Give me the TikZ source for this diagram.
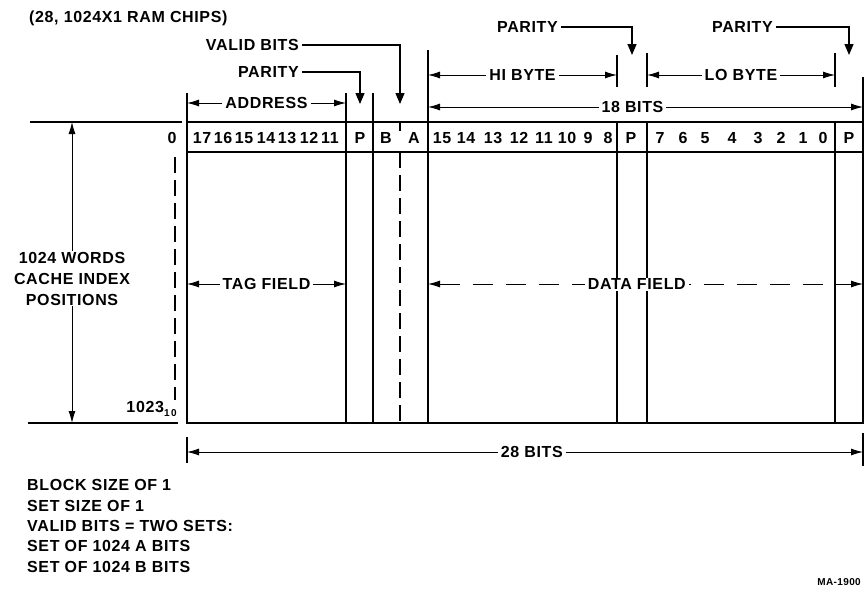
\documentclass[tikz,border=0pt]{standalone}
\usepackage{fontspec}
\setmainfont[LetterSpace=4]{Liberation Sans}
\usepackage{tikz}
\usetikzlibrary{arrows.meta, positioning}
\tikzstyle{txt} = [font=\bfseries\fontsize{16}{21}\selectfont, inner sep=1pt, align=center]
\tikzstyle{small} = [font=\bfseries\fontsize{10}{12}\selectfont, inner sep=1pt]
\tikzstyle{gapfill} = [fill=white, inner xsep=3pt, inner ysep=1pt]
\tikzstyle{box} = [line width=1.8pt]
\tikzstyle{ext} = [line width=1.4pt]
\tikzstyle{dashline} = [line width=1.6pt, dash pattern=on 16pt off 7pt]
\tikzstyle{dim} = [line width=0.9pt, {Latex[length=12pt,width=7pt]}-{Latex[length=12pt,width=7pt]}]
\tikzstyle{pointer} = [line width=1.3pt, -{Triangle[length=11pt,width=9pt]}]

\begin{document}
\begin{tikzpicture}[x=1pt, y=-1pt]
    \useasboundingbox (0,0) rectangle (867,592);

    % word layout of the cache
    \draw[box] (187,122) rectangle (863,423);
    \draw[box] (187,152) -- (863,152);
    \foreach \x in {346,373,428,617,647,835}
        \draw[box] (\x,122) -- (\x,423);
    \draw[box] (400,122) -- (400,131);
    \draw[dashline] (400,152) -- (400,423);

    % extension lines
    \draw[ext] (30,122) -- (182,122);
    \draw[ext] (28,423) -- (178,423);
    \foreach \x/\ya/\yb in {187/93/122, 346/93/122, 373/93/122, 428/50/122,
                            617/55/87, 647/53/87, 835/53/87, 863/77/122,
                            187/437/463, 863/433/466}
        \draw[ext] (\x,\ya) -- (\x,\yb);
    \draw[dashline] (175,157) -- (175,400);

    % bit numbers
    \node[txt] (first) at (172,138) {0};
    \foreach \n/\x in {17/202,16/223,15/244,14/266,13/287,12/309,11/330}
        \node[txt] (tag\n) at (\x,138) {\n};
    \node[txt] (tagp) at (360,138) {P};
    \node[txt] (vb) at (386,138) {B};
    \node[txt] (va) at (414,138) {A};
    \foreach \n/\x in {15/442,14/466,13/493,12/519,11/544,10/567,9/588,8/608}
        \node[txt] (hi\n) at (\x,138) {\n};
    \node[txt] (hip) at (631,138) {P};
    \foreach \n/\x in {7/660,6/683,5/705,4/732,3/758,2/781,1/803,0/823}
        \node[txt] (lo\n) at (\x,138) {\n};
    \node[txt] (lop) at (849,138) {P};
    \node[txt, anchor=east] (last) at (178,409) {1023\raisebox{-4pt}{\fontsize{10}{10}\selectfont 1\,0}};

    % dimension arrows
    \coordinate (addrL) at (187,103);  \coordinate (addrR) at (346,103);
    \coordinate (hiL) at (428,75);     \coordinate (hiR) at (617,75);
    \coordinate (loL) at (647,75);     \coordinate (loR) at (835,75);
    \coordinate (bitsL) at (428,107);  \coordinate (bitsR) at (863,107);
    \coordinate (tagL) at (187,284);   \coordinate (tagR) at (346,284);
    \coordinate (dataL) at (428,284);  \coordinate (dataR) at (863,284);
    \coordinate (wordL) at (187,452);  \coordinate (wordR) at (863,452);
    \coordinate (wtop) at (72,122);    \coordinate (wbot) at (72,423);
    \draw[dim] (addrL) -- node[txt, gapfill] {ADDRESS} (addrR);
    \draw[dim] (hiL) -- node[txt, gapfill] {HI BYTE} (hiR);
    \draw[dim] (loL) -- node[txt, gapfill] {LO BYTE} (loR);
    \draw[dim] (bitsL) -- node[txt, gapfill, pos=0.47] {18 BITS} (bitsR);
    \draw[dim] (tagL) -- node[txt, gapfill] {TAG FIELD} (tagR);
    \draw[dim, dash pattern=on 20pt off 13pt] (dataL) -- node[txt, gapfill, pos=0.48] {DATA FIELD} (dataR);
    \draw[dim] (wordL) -- node[txt, gapfill, pos=0.51] {28 BITS} (wordR);
    \draw[dim] (wtop) -- node[txt, gapfill, pos=0.52] {1024 WORDS\\CACHE INDEX\\POSITIONS} (wbot);

    % pointers
    \node[txt, anchor=east, inner xsep=3pt] (parA) at (302,72) {PARITY};
    \node[txt, anchor=east, inner xsep=3pt] (valid) at (302,45) {VALID BITS};
    \node[txt, anchor=east, inner xsep=3pt] (parB) at (561,27) {PARITY};
    \node[txt, anchor=east, inner xsep=3pt] (parC) at (776,27) {PARITY};
    \coordinate (tipA) at (360,104);
    \coordinate (tipV) at (400,104);
    \coordinate (tipB) at (632,55);
    \coordinate (tipC) at (849,55);
    \draw[pointer] (parA.east) -| (tipA);
    \draw[pointer] (valid.east) -| (tipV);
    \draw[pointer] (parB.east) -| (tipB);
    \draw[pointer] (parC.east) -| (tipC);

    % notes
    \node[txt, anchor=west] (chips) at (28,18) {(28, 1024X1 RAM CHIPS)};
    \node[txt, anchor=west, align=left, font=\bfseries\fontsize{16}{20.3}\selectfont] (notes) at (26,526)
        {BLOCK SIZE OF 1\\SET SIZE OF 1\\VALID BITS = TWO SETS:\\SET OF 1024 A BITS\\SET OF 1024 B BITS};
    \node[small, anchor=east] (fig) at (862,582) {MA-1900};
\end{tikzpicture}
\end{document}
